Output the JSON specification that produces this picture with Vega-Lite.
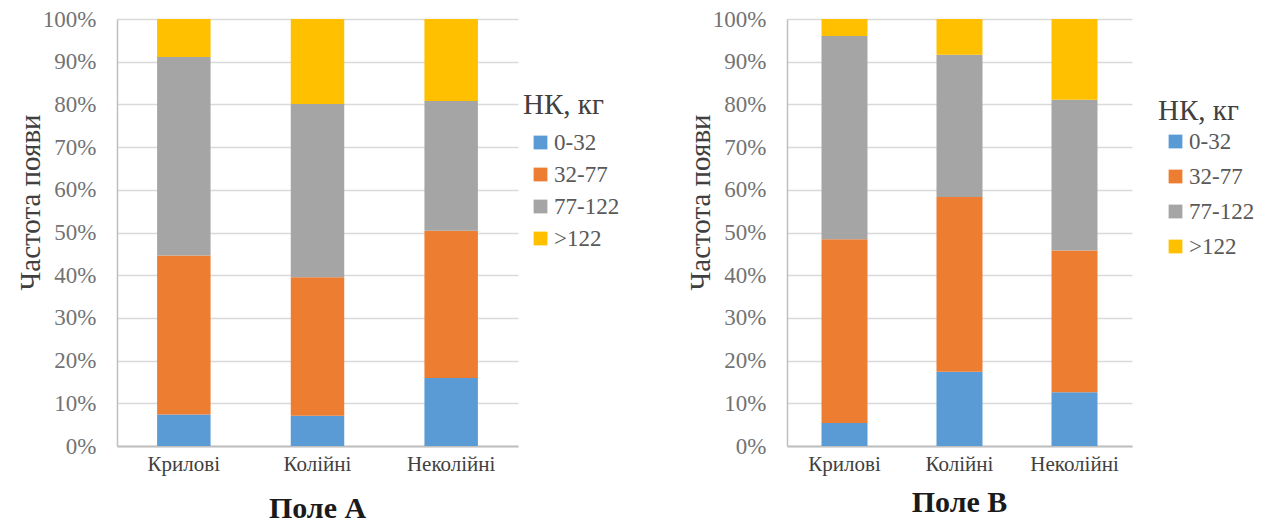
{
  "$schema": "https://vega.github.io/schema/vega-lite/v6.json",
  "background": "white",
  "padding": {"left": 16, "top": 8, "right": 0, "bottom": 0},
  "autosize": {"type": "pad"},
  "spacing": 269,
  "bounds": "flush",
  "config": {
    "font": "Liberation Serif",
    "view": {"stroke": null},
    "title": {"font": "Liberation Serif", "fontSize": 30, "fontWeight": "bold", "color": "#1a1a1a"}
  },
  "datasets": {
    "A": [
      {"group": "Крилові", "range": "0-32", "i": 1, "value": 7.4},
      {"group": "Крилові", "range": "32-77", "i": 2, "value": 37.2},
      {"group": "Крилові", "range": "77-122", "i": 3, "value": 46.5},
      {"group": "Крилові", "range": ">122", "i": 4, "value": 8.9},
      {"group": "Колійні", "range": "0-32", "i": 1, "value": 7.1},
      {"group": "Колійні", "range": "32-77", "i": 2, "value": 32.4},
      {"group": "Колійні", "range": "77-122", "i": 3, "value": 40.6},
      {"group": "Колійні", "range": ">122", "i": 4, "value": 19.9},
      {"group": "Неколійні", "range": "0-32", "i": 1, "value": 15.9},
      {"group": "Неколійні", "range": "32-77", "i": 2, "value": 34.5},
      {"group": "Неколійні", "range": "77-122", "i": 3, "value": 30.4},
      {"group": "Неколійні", "range": ">122", "i": 4, "value": 19.2}
    ],
    "B": [
      {"group": "Крилові", "range": "0-32", "i": 1, "value": 5.4},
      {"group": "Крилові", "range": "32-77", "i": 2, "value": 43.0},
      {"group": "Крилові", "range": "77-122", "i": 3, "value": 47.6},
      {"group": "Крилові", "range": ">122", "i": 4, "value": 4.0},
      {"group": "Колійні", "range": "0-32", "i": 1, "value": 17.4},
      {"group": "Колійні", "range": "32-77", "i": 2, "value": 40.9},
      {"group": "Колійні", "range": "77-122", "i": 3, "value": 33.3},
      {"group": "Колійні", "range": ">122", "i": 4, "value": 8.4},
      {"group": "Неколійні", "range": "0-32", "i": 1, "value": 12.6},
      {"group": "Неколійні", "range": "32-77", "i": 2, "value": 33.2},
      {"group": "Неколійні", "range": "77-122", "i": 3, "value": 35.3},
      {"group": "Неколійні", "range": ">122", "i": 4, "value": 18.9}
    ]
  },
  "resolve": {"scale": {"color": "independent"}, "legend": {"color": "independent"}},
  "hconcat": [
    {
      "width": 401, "height": 427,
      "data": {"name": "A"},
      "title": {"text": "Поле А", "orient": "bottom", "offset": 20},
      "mark": {"type": "bar"},
      "encoding": {
        "x": {"field": "group", "type": "nominal", "sort": ["Крилові", "Колійні", "Неколійні"],
              "scale": {"paddingInner": 0.6, "paddingOuter": 0.3},
              "axis": {"title": null, "domain": true, "domainColor": "#bfbfbf", "domainWidth": 2, "ticks": false, "grid": false,
                       "labelFont": "Liberation Serif", "labelFontSize": 21, "labelColor": "#404040", "labelPadding": 7, "labelAngle": 0}},
        "y": {"field": "value", "type": "quantitative", "stack": "normalize",
              "scale": {"domain": [0, 1]},
              "axis": {"title": "Частота появи", "format": ".0%", "values": [0, 0.1, 0.2, 0.3, 0.4, 0.5, 0.6, 0.7, 0.8, 0.9, 1],
                       "domain": true, "domainColor": "#bfbfbf", "domainWidth": 1.5, "ticks": false,
                       "grid": true, "gridColor": "#d9d9d9", "gridWidth": 1.5,
                       "labelFont": "Liberation Serif", "labelFontSize": 23, "labelColor": "#737373", "labelPadding": 21,
                       "titleFont": "Liberation Serif", "titleFontSize": 29, "titleColor": "#404040", "titleFontWeight": "normal",
                       "titleX": -72, "titleY": 183, "titleBaseline": "bottom"}},
        "color": {"field": "range", "type": "nominal",
                  "scale": {"domain": ["0-32", "32-77", "77-122", ">122"], "range": ["#5b9bd5", "#ed7d31", "#a5a5a5", "#ffc000"]},
                  "legend": {"title": "НК, кг", "orient": "none", "legendX": 406, "legendY": 72,
                             "titleFont": "Liberation Serif", "titleFontSize": 29, "titleFontWeight": "normal", "titleColor": "#404040",
                             "labelFont": "Liberation Serif", "labelFontSize": 23, "labelColor": "#595959",
                             "symbolType": "square", "symbolSize": 190, "symbolStrokeWidth": 0,
                             "symbolOffset": 6, "labelOffset": 2, "rowPadding": 8, "titlePadding": 11}},
        "order": {"field": "i", "type": "quantitative"}
      }
    },
    {
      "width": 345, "height": 427,
      "data": {"name": "B"},
      "title": {"text": "Поле В", "orient": "bottom", "offset": 14},
      "mark": {"type": "bar"},
      "encoding": {
        "x": {"field": "group", "type": "nominal", "sort": ["Крилові", "Колійні", "Неколійні"],
              "scale": {"paddingInner": 0.6, "paddingOuter": 0.3},
              "axis": {"title": null, "domain": true, "domainColor": "#bfbfbf", "domainWidth": 2, "ticks": false, "grid": false,
                       "labelFont": "Liberation Serif", "labelFontSize": 21, "labelColor": "#404040", "labelPadding": 7, "labelAngle": 0}},
        "y": {"field": "value", "type": "quantitative", "stack": "normalize",
              "scale": {"domain": [0, 1]},
              "axis": {"title": "Частота появи", "format": ".0%", "values": [0, 0.1, 0.2, 0.3, 0.4, 0.5, 0.6, 0.7, 0.8, 0.9, 1],
                       "domain": true, "domainColor": "#bfbfbf", "domainWidth": 1.5, "ticks": false,
                       "grid": true, "gridColor": "#d9d9d9", "gridWidth": 1.5,
                       "labelFont": "Liberation Serif", "labelFontSize": 23, "labelColor": "#737373", "labelPadding": 21,
                       "titleFont": "Liberation Serif", "titleFontSize": 29, "titleColor": "#404040", "titleFontWeight": "normal",
                       "titleX": -72, "titleY": 183, "titleBaseline": "bottom"}},
        "color": {"field": "range", "type": "nominal",
                  "scale": {"domain": ["0-32", "32-77", "77-122", ">122"], "range": ["#5b9bd5", "#ed7d31", "#a5a5a5", "#ffc000"]},
                  "legend": {"title": "НК, кг", "orient": "none", "legendX": 371, "legendY": 78,
                             "titleFont": "Liberation Serif", "titleFontSize": 29, "titleFontWeight": "normal", "titleColor": "#404040",
                             "labelFont": "Liberation Serif", "labelFontSize": 23, "labelColor": "#595959",
                             "symbolType": "square", "symbolSize": 190, "symbolStrokeWidth": 0,
                             "symbolOffset": 6, "labelOffset": 2, "rowPadding": 11, "titlePadding": 4}},
        "order": {"field": "i", "type": "quantitative"}
      }
    }
  ]
}
